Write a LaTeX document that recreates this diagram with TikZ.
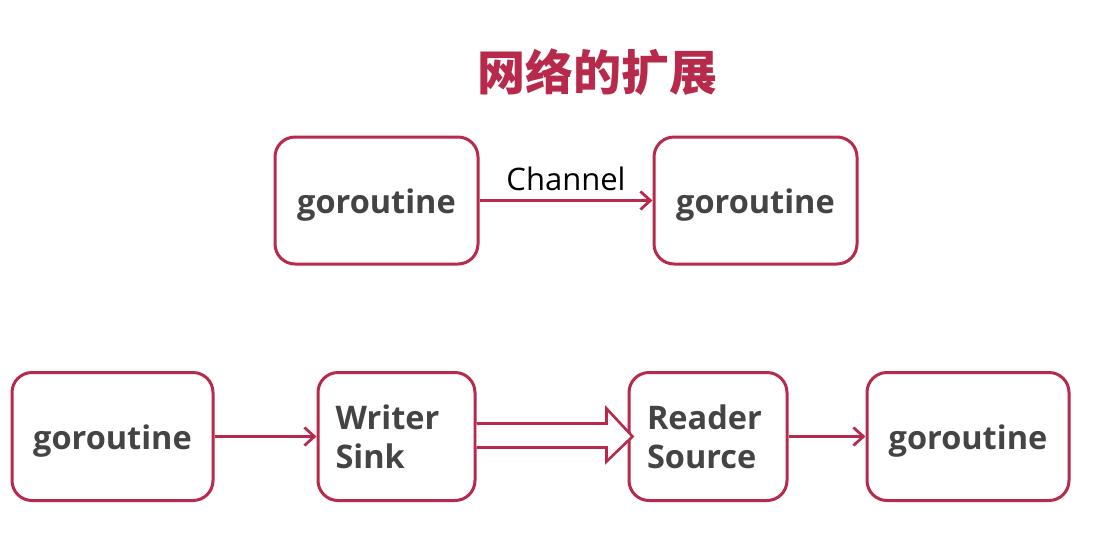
\documentclass[tikz,border=0pt]{standalone}
\usepackage{fontspec}
\setmainfont{Open Sans}
\newfontfamily\cjk{Noto Sans CJK SC}
\usetikzlibrary{arrows.meta,positioning,calc}
\definecolor{crim}{HTML}{B82A4C}
\definecolor{txt}{HTML}{444444}
\newcommand{\lowtxt}[1]{\raisebox{-12.5pt}[0pt][0pt]{#1}}
\tikzset{
  box/.style={draw=crim, line width=3pt, rounded corners=20pt, fill=white, text=txt,
    font=\fontsize{32.5}{39}\selectfont\bfseries, inner sep=0pt},
  conn/.style={draw=crim, line width=2.8pt, -{Straight Barb[length=10pt,width=18pt,line width=2.8pt]}},
}
\begin{document}
\begin{tikzpicture}[x=1pt,y=-1pt]
\useasboundingbox (0,0) rectangle (1101,542);
% title
\node[text=crim, font=\cjk\fontsize{48}{52}\selectfont\bfseries] (title) at (597,72) {网络的扩展};
% top row
\node[box, minimum width=203pt, minimum height=127pt] (g1) at (376.5,200.5) {\lowtxt{goroutine}};
\node[box, minimum width=203pt, minimum height=127pt] (g2) at (755.5,200.5) {\lowtxt{goroutine}};
\draw[conn] (g1.east) -- node[above=5pt, text=black, font=\fontsize{31}{36}\selectfont] (ch) {Channel} (g2.west);
% bottom row
\node[box, minimum width=201pt, minimum height=128pt] (b1) at (112.5,436.5) {\lowtxt{goroutine}};
\node[box, minimum width=157pt, minimum height=128pt, align=left] (b2) at (396.5,436.5) {\makebox[122pt][l]{Writer}\\\makebox[122pt][l]{Sink}};
\node[box, minimum width=158pt, minimum height=128pt, align=left] (b3) at (708,436.5) {\makebox[122pt][l]{Reader}\\\makebox[122pt][l]{Source}};
\node[box, minimum width=202pt, minimum height=128pt] (b4) at (968,436.5) {\lowtxt{goroutine}};
\draw[conn] (b1.east) -- (b2.west);
\draw[conn] (b3.east) -- (b4.west);
% hollow double arrow from Writer/Sink to Reader/Source
\draw[draw=crim, line width=2.6pt, fill=white, line join=miter]
  ($(b2.east)+(0,-13)$) -- ($(b3.west)+(-21,-13)$) -- ($(b3.west)+(-21,-28)$)
  -- ($(b3.west)+(5,0)$)
  -- ($(b3.west)+(-21,25)$) -- ($(b3.west)+(-21,11)$) -- ($(b2.east)+(0,11)$);
\end{tikzpicture}
\end{document}
